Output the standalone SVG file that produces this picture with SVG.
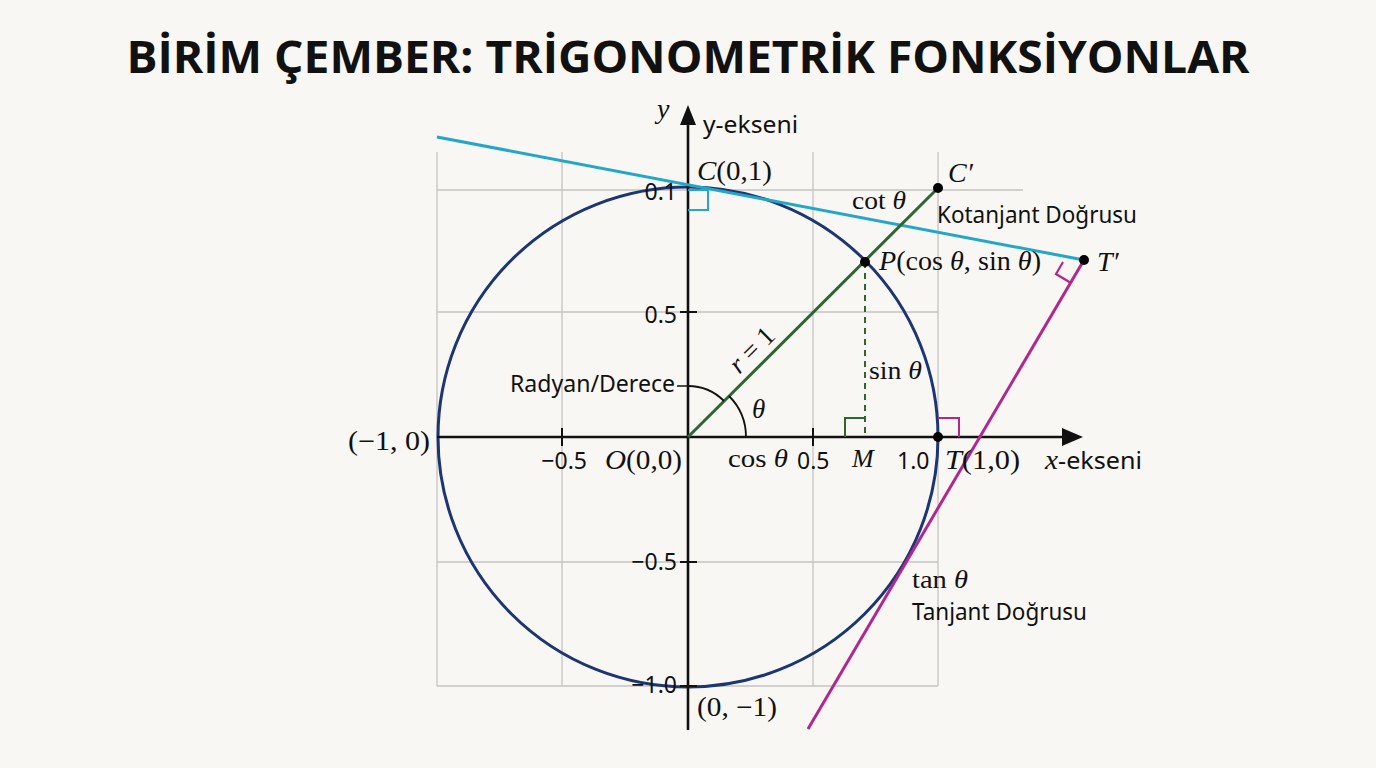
<svg xmlns="http://www.w3.org/2000/svg" width="1376" height="768" viewBox="0 0 1376 768">
<defs>
<style>
.grid{stroke:#c4c4c4;stroke-width:1.3;fill:none}
.axis{stroke:#111;stroke-width:2.6;fill:none}
.sans{font-family:"Noto Sans","Open Sans",sans-serif;fill:#111}
.serif{font-family:"Liberation Serif","DejaVu Serif",serif;fill:#111}
.it{font-style:italic}
.dot{fill:#000}
</style>
</defs>
<rect width="1376" height="768" fill="#f8f7f3"/>
<text x="688" y="73" text-anchor="middle" font-family="Open Sans, Noto Sans, sans-serif" font-weight="700" font-size="44" fill="#111" textLength="1123" lengthAdjust="spacingAndGlyphs">BİRİM ÇEMBER: TRİGONOMETRİK FONKSİYONLAR</text>

<g id="grid">
<path class="grid" d="M437,152V686M562,152V686M813,152V686M938,152V686M437,190H1023M437,312H938M437,562H938M437,686H938"/>
</g>

<g id="circle">
<circle cx="688" cy="437" r="250" fill="none" stroke="#1c3573" stroke-width="3"/>
</g>

<g id="connectors">
<line class="axis" x1="688" y1="730" x2="688" y2="120"/>
<path d="M688,105 L680,125 L696,125 z" fill="#111"/>
<line class="axis" x1="437" y1="437" x2="1065" y2="437"/>
<path d="M1083,437 L1062,428 L1062,446 z" fill="#111"/>
<path class="axis" style="stroke-width:2" d="M680,312H697M680,562H697M680,686H697M562,428V446M813,428V446"/>
<line x1="437" y1="137" x2="1084" y2="260" stroke="#22a7c9" stroke-width="3"/>
<path d="M688,190H708V210H688" fill="none" stroke="#22a7c9" stroke-width="2"/>
<line x1="808" y1="729" x2="1084" y2="260" stroke="#b0288f" stroke-width="3"/>
<path d="M1063,262L1056,274L1071,283" fill="none" stroke="#b0288f" stroke-width="2.2"/>
<path d="M938,418H959V437" fill="none" stroke="#b0288f" stroke-width="2"/>
<line x1="688" y1="437" x2="938" y2="188" stroke="#2f6530" stroke-width="3"/>
<line x1="865" y1="262" x2="865" y2="437" stroke="#2f6530" stroke-width="2" stroke-dasharray="6,5"/>
<path d="M865,418H845V437" fill="none" stroke="#2f6530" stroke-width="2"/>
<path d="M746,437 A58,58 0 0 0 729,396" fill="none" stroke="#111" stroke-width="1.8"/>
<path d="M688,386 A51,51 0 0 1 724,401" fill="none" stroke="#111" stroke-width="1.8"/>
<line x1="677" y1="386" x2="688" y2="386" stroke="#111" stroke-width="1.5"/>
</g>

<g id="points">
<circle class="dot" cx="865" cy="262" r="5"/>
<circle class="dot" cx="938" cy="188" r="5"/>
<circle class="dot" cx="938" cy="437" r="5"/>
<circle class="dot" cx="1084" cy="260" r="5"/>
</g>

<g id="labels">
<text class="serif it" x="657" y="118" font-size="28">y</text>
<text class="sans" x="703" y="133" font-size="23" textLength="95" lengthAdjust="spacingAndGlyphs">y-ekseni</text>
<text class="serif" x="697" y="180" font-size="27" textLength="75" lengthAdjust="spacingAndGlyphs"><tspan class="it">C</tspan>(0,1)</text>
<text class="sans" x="677" y="200" font-size="23" text-anchor="end">0.1</text>
<text class="sans" x="677" y="323" font-size="23" text-anchor="end">0.5</text>
<text class="sans" x="677" y="570" font-size="23" text-anchor="end">−0.5</text>
<text class="sans" x="677" y="693" font-size="23" text-anchor="end">−1.0</text>
<text class="serif" x="697" y="716" font-size="27" textLength="80" lengthAdjust="spacingAndGlyphs">(0, −1)</text>
<text class="serif" x="348" y="450" font-size="27" textLength="82" lengthAdjust="spacingAndGlyphs">(−1, 0)</text>
<text class="sans" x="587" y="469" font-size="23" text-anchor="end">−0.5</text>
<text class="serif" x="605" y="469" font-size="27" textLength="77" lengthAdjust="spacingAndGlyphs"><tspan class="it">O</tspan>(0,0)</text>
<text class="serif" x="728" y="467" font-size="26" textLength="60" lengthAdjust="spacingAndGlyphs">cos <tspan class="it">θ</tspan></text>
<text class="sans" x="797" y="469" font-size="23">0.5</text>
<text class="serif it" x="852" y="467" font-size="26">M</text>
<text class="sans" x="897" y="469" font-size="23">1.0</text>
<text class="serif" x="945" y="469" font-size="27" textLength="75" lengthAdjust="spacingAndGlyphs"><tspan class="it">T</tspan>(1,0)</text>
<text class="sans" x="1045" y="469" font-size="23" textLength="97" lengthAdjust="spacingAndGlyphs"><tspan class="serif it" font-size="27">x</tspan>-ekseni</text>
<text class="sans" x="510" y="392" font-size="23" textLength="165" lengthAdjust="spacingAndGlyphs">Radyan/Derece</text>
<text class="serif it" x="752" y="418" font-size="27">θ</text>
<text class="serif it" x="0" y="0" font-size="27" text-anchor="middle" transform="translate(758,356) rotate(-45)">r <tspan font-style="normal">= 1</tspan></text>
<text class="serif" x="869" y="379" font-size="26" textLength="53" lengthAdjust="spacingAndGlyphs">sin <tspan class="it">θ</tspan></text>
<text class="serif" x="852" y="209" font-size="26" textLength="54" lengthAdjust="spacingAndGlyphs">cot <tspan class="it">θ</tspan></text>
<text class="serif it" x="948" y="182" font-size="28">C′</text>
<text class="sans" x="937" y="223" font-size="23" textLength="200" lengthAdjust="spacingAndGlyphs">Kotanjant Doğrusu</text>
<text class="serif" x="879" y="270" font-size="27" textLength="162" lengthAdjust="spacingAndGlyphs"><tspan class="it">P</tspan>(cos <tspan class="it">θ</tspan>, sin <tspan class="it">θ</tspan>)</text>
<text class="serif it" x="1097" y="271" font-size="28">T′</text>
<text class="serif" x="912" y="588" font-size="26" textLength="56" lengthAdjust="spacingAndGlyphs">tan <tspan class="it">θ</tspan></text>
<text class="sans" x="912" y="620" font-size="23" textLength="175" lengthAdjust="spacingAndGlyphs">Tanjant Doğrusu</text>
</g>
</svg>
